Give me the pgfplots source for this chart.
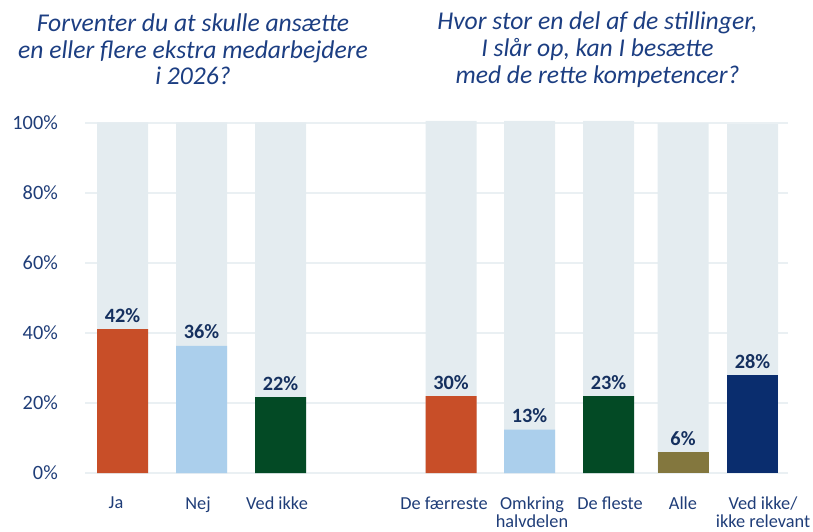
\documentclass[border=0pt]{standalone}
\usepackage{pgfplots}
\pgfplotsset{compat=1.18}
\usepackage{fontspec}
\setmainfont{Carlito}
\definecolor{bgbar}{HTML}{E4ECF0}
\definecolor{gridc}{HTML}{EAF0F3}
\definecolor{txtc}{HTML}{1F3D78}
\definecolor{valc}{HTML}{15305F}
\definecolor{titlec}{HTML}{1C3E82}
\definecolor{corange}{HTML}{C84E28}
\definecolor{clblue}{HTML}{ABCFEC}
\definecolor{cgreen}{HTML}{034A25}
\definecolor{colive}{HTML}{83773E}
\definecolor{cnavy}{HTML}{0A2D6E}
\begin{document}
\begin{tikzpicture}
\begin{axis}[name=ax,
  width=703pt, height=350pt, scale only axis,
  xmin=85, xmax=788, ymin=0, ymax=100,
  clip=false,
  axis line style={draw=none},
  major tick length=0pt,
  ytick={0,20,40,60,80,100},
  yticklabel={\pgfmathprintnumber{\tick}\%},
  /pgf/number format/assume math mode=true,
  yticklabel style={anchor=east, inner sep=0pt, xshift=-27pt, text=txtc, font=\fontsize{20.3}{22}\selectfont},
  ymajorgrids, grid style={color=gridc, line width=1.5pt},
  xtick={116,198,277,444,532,610,683,763},
  xticklabels={Ja, Nej, Ved ikke, De færreste, Omkring\\halvdelen, De fleste, Alle, Ved ikke/\\ikke relevant},
  xticklabel style={align=center, anchor=north, inner sep=0pt, yshift=-23.5pt, text=txtc, font=\fontsize{18.3}{18.5}\selectfont},
  every node near coord/.append style={anchor=base, inner sep=0pt, yshift=7pt, text=valc, font=\fontsize{20.3}{22}\selectfont\bfseries},
]
% background bars
\addplot[ybar, bar width=51, bar shift=0pt, fill=bgbar, draw=none] coordinates {
 (122.5,100.2) (201.5,100.2) (280.5,100.2)
 (451,100.6) (529.5,100.6) (608.5,100.6) (683,100) (752.5,99.7)};
% coloured bars
\addplot[ybar, bar width=51, bar shift=0pt, fill=corange, draw=none, point meta=explicit symbolic, nodes near coords] coordinates {
 (122.5,41.1) [42\%] (451,22) [30\%]};
\addplot[ybar, bar width=51, bar shift=0pt, fill=clblue, draw=none, point meta=explicit symbolic, nodes near coords] coordinates {
 (201.5,36.3) [36\%] (529.5,12.4) [13\%]};
\addplot[ybar, bar width=51, bar shift=0pt, fill=cgreen, draw=none, point meta=explicit symbolic, nodes near coords] coordinates {
 (280.5,21.7) [22\%] (608.5,22) [23\%]};
\addplot[ybar, bar width=51, bar shift=0pt, fill=colive, draw=none, point meta=explicit symbolic, nodes near coords] coordinates {
 (683,5.9) [6\%]};
\addplot[ybar, bar width=51, bar shift=0pt, fill=cnavy, draw=none, point meta=explicit symbolic, nodes near coords] coordinates {
 (752.5,28) [28\%]};
\node[align=center, text=titlec, font=\itshape\fontsize{25.6}{26.7}\selectfont] at (axis cs:193,121.0)
 {Forventer du at skulle ansætte\\en eller flere ekstra medarbejdere\\i 2026?};
\node[align=center, text=titlec, font=\itshape\fontsize{25.6}{26.7}\selectfont] at (axis cs:597.5,121.0)
 {Hvor stor en del af de stillinger,\\I slår op, kan I besætte\\med de rette kompetencer?};
\end{axis}
\pgfresetboundingbox
\path ([xshift=-85pt,yshift=-58pt]ax.south west) rectangle ([xshift=25pt,yshift=123pt]ax.north east);
\end{tikzpicture}
\end{document}
